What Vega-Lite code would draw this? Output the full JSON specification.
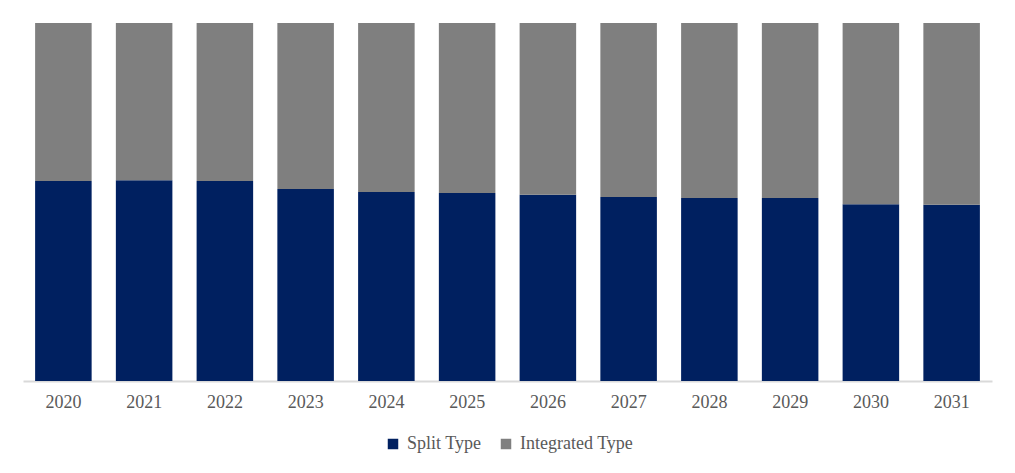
{
  "$schema": "https://vega.github.io/schema/vega-lite/v6.json",
  "width": 969,
  "height": 358,
  "padding": {"left": 23, "top": 23, "right": 23, "bottom": 5},
  "background": "white",
  "config": {
    "view": {"stroke": null},
    "font": "Liberation Serif"
  },
  "data": {
    "values": [
      {"year": "2020", "type": "Split Type", "share": 55.9},
      {"year": "2020", "type": "Integrated Type", "share": 44.1},
      {"year": "2021", "type": "Split Type", "share": 56.1},
      {"year": "2021", "type": "Integrated Type", "share": 43.9},
      {"year": "2022", "type": "Split Type", "share": 55.9},
      {"year": "2022", "type": "Integrated Type", "share": 44.1},
      {"year": "2023", "type": "Split Type", "share": 53.6},
      {"year": "2023", "type": "Integrated Type", "share": 46.4},
      {"year": "2024", "type": "Split Type", "share": 52.8},
      {"year": "2024", "type": "Integrated Type", "share": 47.2},
      {"year": "2025", "type": "Split Type", "share": 52.5},
      {"year": "2025", "type": "Integrated Type", "share": 47.5},
      {"year": "2026", "type": "Split Type", "share": 52.0},
      {"year": "2026", "type": "Integrated Type", "share": 48.0},
      {"year": "2027", "type": "Split Type", "share": 51.4},
      {"year": "2027", "type": "Integrated Type", "share": 48.6},
      {"year": "2028", "type": "Split Type", "share": 51.1},
      {"year": "2028", "type": "Integrated Type", "share": 48.9},
      {"year": "2029", "type": "Split Type", "share": 51.1},
      {"year": "2029", "type": "Integrated Type", "share": 48.9},
      {"year": "2030", "type": "Split Type", "share": 49.4},
      {"year": "2030", "type": "Integrated Type", "share": 50.6},
      {"year": "2031", "type": "Split Type", "share": 49.2},
      {"year": "2031", "type": "Integrated Type", "share": 50.8}
    ]
  },
  "mark": {"type": "bar"},
  "encoding": {
    "x": {
      "field": "year",
      "type": "nominal",
      "scale": {"paddingInner": 0.3, "paddingOuter": 0.15},
      "axis": {
        "title": null,
        "labelAngle": 0,
        "ticks": false,
        "domainColor": "#d9d9d9",
        "domainWidth": 2,
        "labelFont": "Liberation Serif",
        "labelFontSize": 18,
        "labelColor": "#595959",
        "labelPadding": 12
      }
    },
    "y": {
      "field": "share",
      "type": "quantitative",
      "stack": "normalize",
      "axis": null
    },
    "color": {
      "field": "type",
      "type": "nominal",
      "scale": {
        "domain": ["Split Type", "Integrated Type"],
        "range": ["#002060", "#7f7f7f"]
      },
      "legend": {
        "title": null,
        "orient": "none",
        "legendX": 361,
        "legendY": 412,
        "direction": "horizontal",
        "symbolType": "square",
        "symbolSize": 110,
        "symbolStrokeWidth": 0,
        "labelFont": "Liberation Serif",
        "labelFontSize": 18,
        "labelColor": "#595959",
        "labelOffset": 5,
        "columnPadding": 15
      }
    },
    "order": {"field": "type", "sort": "descending"}
  }
}
